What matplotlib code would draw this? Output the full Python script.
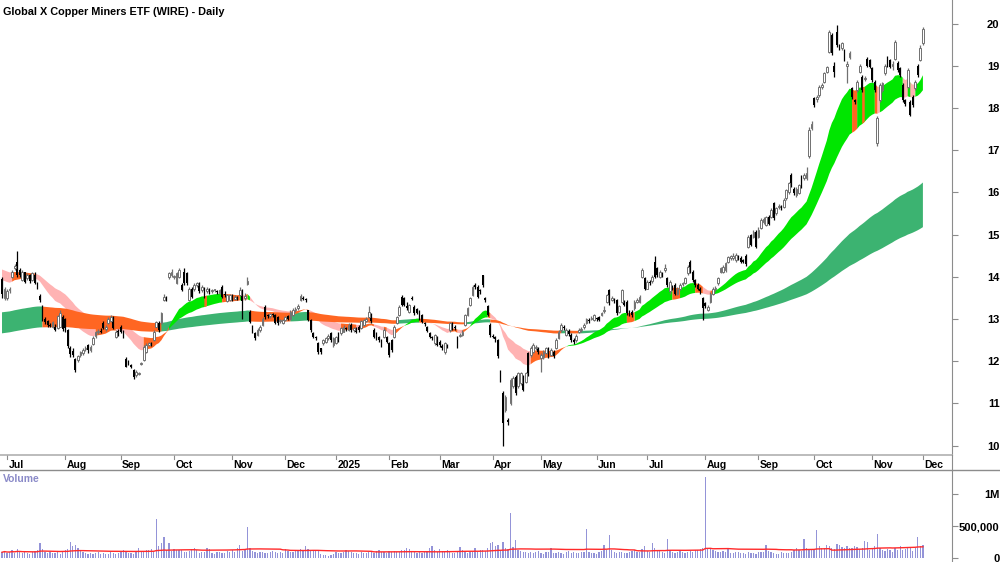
import numpy as np
import pandas as pd
import matplotlib
matplotlib.use('Agg')
import matplotlib.pyplot as plt
from matplotlib.lines import Line2D
from matplotlib.transforms import blended_transform_factory

plt.rcParams['font.family'] = ['Liberation Sans', 'DejaVu Sans']

title = 'Global X Copper Miners ETF (WIRE) - Daily'

# ASX trading days 27 Jun 2024 - 1 Dec 2025
first_day, last_day = '2024-06-27', '2025-12-01'
asx_holidays = ['2024-12-25', '2024-12-26', '2025-01-01', '2025-01-27',
                '2025-04-18', '2025-04-21', '2025-04-25', '2025-06-09']

opens = [
    13.95, 13.49, 13.5, 13.68, 14.0, 14.2, 14.35, 14.16, 13.92, 14.1,
    13.96, 14.04, 13.92, 14.05, 13.85, 13.55, 13.3, 13.0, 12.95, 12.85,
    12.82, 12.82, 12.78, 12.82, 13.05, 13.0, 12.74, 12.3, 12.25, 12.06,
    12.03, 12.15, 12.2,
    12.28, 12.38, 12.26, 12.4, 12.6, 12.7, 12.72, 12.9,
    12.76, 12.9, 12.94, 13.05, 12.58, 12.72, 12.82, 12.7, 12.06, 11.99,
    11.9, 11.79, 11.67, 11.7, 11.93, 12.03, 12.22, 12.38, 12.42, 12.5,
    12.82, 12.9, 12.9, 13.45, 13.5, 14.0, 14.04, 14.0, 13.85, 14.0,
    13.8, 14.12, 14.08, 13.45, 13.72, 13.7, 13.8, 13.84, 13.68, 13.72,
    13.65, 13.7, 13.66, 13.68, 13.65, 13.62, 13.76, 13.6, 13.42, 13.45,
    13.53, 13.48, 13.5, 13.57, 13.6, 13.5,
    13.82, 13.17, 12.82, 12.66, 12.62,
    12.74, 12.86, 13.29, 13.1, 13.06, 13.1, 13.1, 13.05, 12.94, 12.9,
    12.97, 13.07, 13.0, 13.1, 13.2, 13.25, 13.45, 13.5, 13.46, 13.2,
    12.97, 12.66, 12.58, 12.42, 12.3, 12.42, 12.45, 12.54, 12.66, 12.38,
    12.42, 12.66, 12.66, 12.7, 12.78, 12.74, 12.86, 12.74, 12.78, 12.82,
    12.78, 12.86, 12.94, 13.05, 13.1, 12.74, 12.66, 12.58, 12.5, 12.58,
    12.58, 12.42, 12.5, 12.58, 12.9, 13.1, 13.53, 13.5, 13.3,
    13.17, 13.5, 13.29, 13.23, 13.17, 13.09, 12.9, 12.8, 12.66, 12.58, 12.42, 12.58,
    12.46, 12.36, 12.22, 12.36, 12.74, 12.9, 12.82, 12.58, 12.6, 12.62,
    12.86, 13.1, 13.33, 13.57, 13.8, 13.76, 13.66, 14.04, 13.5, 13.3,
    12.86, 12.6, 12.56, 12.5, 11.75, 11.24, 10.84, 10.6, 11.0, 11.4,
    11.63, 11.4, 11.47, 11.63, 11.51, 12.19, 12.15, 12.22, 12.3, 12.3,
    12.07, 12.1, 12.2, 12.3, 12.15, 12.22, 12.3, 12.55, 12.74, 12.82, 12.62, 12.72,
    12.62, 12.5, 12.5, 12.7, 12.74, 12.8, 12.9, 12.98, 13.0,
    12.98, 13.0, 13.05, 13.1, 13.18, 13.41, 13.68, 13.45, 13.45, 13.45,
    13.17, 13.41, 13.4, 13.41, 13.17, 13.17, 13.25, 13.4, 13.41, 14.0,
    13.96, 13.72, 13.88, 13.9, 14.36, 14.2, 14.0, 14.08, 14.16, 13.96,
    13.65, 13.76, 13.8, 13.6, 13.72, 13.82, 13.85, 14.08, 14.36, 14.12,
    13.92, 13.8, 13.72, 13.5, 13.37, 13.22, 13.4, 13.6, 13.7, 13.84,
    14.12, 14.12, 14.16, 14.36, 14.45,
    14.44, 14.4, 14.47, 14.44, 14.38, 14.5,
    14.71, 14.99, 14.95, 15.07, 14.95, 15.15, 15.3, 15.22, 15.42, 15.42,
    15.74, 15.5, 15.64, 15.66, 15.66, 15.86, 16.0, 16.41, 16.09, 15.94,
    15.98, 16.37, 16.35, 16.33, 16.85, 17.52, 18.23, 18.2, 18.3, 18.5,
    18.62, 18.86, 19.33, 19.73, 19.0, 19.8, 19.49, 19.42, 19.37, 19.0,
    19.2, 18.46, 18.19, 18.42, 18.86, 18.74, 18.68, 19.17, 19.13, 18.94,
    18.62, 17.16, 18.19, 18.42, 18.82, 19.2, 19.13, 19.0,
    19.17, 19.06, 18.94, 18.54, 18.19, 18.5, 18.15, 18.27, 18.47, 19.0, 19.13, 19.53,
]

highs = [
    14.0, 13.75, 13.7, 13.75, 14.15, 14.3, 14.6, 14.2, 14.15, 14.12,
    14.08, 14.06, 14.1, 14.1, 13.88, 13.6, 13.32, 13.05, 12.98, 12.9,
    12.96, 12.88, 13.1, 13.2, 13.1, 13.02, 12.76, 12.35, 12.3, 12.08,
    12.15, 12.25, 12.3,
    12.35, 12.4, 12.38, 12.6, 12.72, 12.76, 12.78, 12.95,
    12.85, 13.05, 13.1, 13.08, 12.74, 12.75, 12.85, 12.74, 12.1, 12.02,
    11.93, 11.82, 11.78, 11.75, 11.98, 12.38, 12.42, 12.45, 12.46, 12.74,
    12.96, 12.94, 13.17, 13.58, 13.55, 14.12, 14.18, 14.05, 14.1, 14.2,
    13.85, 14.2, 14.1, 13.75, 13.75, 13.84, 13.88, 13.88, 13.8, 13.76,
    13.76, 13.74, 13.72, 13.72, 13.69, 13.72, 13.8, 13.65, 13.6, 13.6,
    13.58, 13.56, 13.54, 13.76, 13.7, 13.62,
    14.0, 13.2, 12.85, 12.7, 12.78,
    12.86, 13.05, 13.32, 13.12, 13.15, 13.13, 13.12, 13.08, 13.0, 13.0,
    13.08, 13.1, 13.2, 13.25, 13.28, 13.35, 13.6, 13.55, 13.5, 13.22,
    13.0, 12.7, 12.6, 12.45, 12.32, 12.52, 12.58, 12.64, 12.7, 12.56,
    12.6, 12.7, 12.8, 12.85, 12.82, 12.9, 12.9, 12.82, 12.82, 12.86,
    12.98, 13.0, 13.05, 13.3, 13.13, 12.78, 12.7, 12.6, 12.52, 12.78,
    12.6, 12.45, 12.52, 12.86, 13.08, 13.32, 13.57, 13.52, 13.4,
    13.36, 13.55, 13.32, 13.26, 13.2, 13.12, 12.93, 12.84, 12.7, 12.6, 12.64, 12.6,
    12.5, 12.4, 12.45, 12.4, 12.93, 12.93, 12.86, 12.6, 12.66, 12.74,
    13.12, 13.28, 13.52, 13.8, 13.84, 13.8, 13.7, 14.05, 13.53, 13.33,
    12.9, 12.64, 12.6, 12.52, 11.8, 11.3, 11.2, 10.65, 11.6, 11.64,
    11.66, 11.74, 11.75, 11.66, 11.74, 12.22, 12.35, 12.42, 12.38, 12.34,
    12.2, 12.26, 12.34, 12.34, 12.3, 12.26, 12.54, 12.74, 12.9, 12.86, 12.78, 12.76,
    12.66, 12.54, 12.64, 12.78, 12.8, 12.9, 13.02, 13.02, 13.06,
    13.12, 13.04, 13.08, 13.16, 13.3, 13.6, 13.7, 13.54, 13.5, 13.48,
    13.33, 13.72, 13.45, 13.44, 13.2, 13.2, 13.44, 13.5, 13.56, 14.2,
    14.0, 13.92, 13.92, 14.05, 14.5, 14.24, 14.16, 14.1, 14.3, 14.0,
    13.92, 13.8, 13.84, 13.76, 13.84, 13.88, 14.0, 14.28, 14.4, 14.15,
    13.95, 13.84, 13.76, 13.53, 13.4, 13.32, 13.64, 13.76, 13.78, 14.0,
    14.24, 14.28, 14.36, 14.5, 14.52,
    14.55, 14.55, 14.52, 14.48, 14.42, 14.54,
    15.0, 15.02, 15.1, 15.1, 15.18, 15.38, 15.42, 15.45, 15.46, 15.62,
    15.78, 15.66, 15.72, 15.7, 15.86, 16.08, 16.25, 16.45, 16.12, 16.12,
    16.2, 16.4, 16.45, 16.6, 17.55, 17.7, 18.27, 18.3, 18.55, 18.6,
    18.86, 19.0, 19.85, 19.78, 19.08, 19.96, 19.52, 19.56, 19.4, 19.1,
    19.34, 18.5, 18.22, 18.66, 19.04, 18.78, 18.76, 19.2, 19.16, 18.98,
    18.66, 17.8, 18.58, 18.62, 19.04, 19.24, 19.16, 19.1,
    19.6, 19.1, 18.98, 18.58, 18.22, 18.95, 18.18, 18.3, 18.66, 19.04, 19.5, 19.92,
]

lows = [
    13.5, 13.45, 13.45, 13.62, 13.98, 14.15, 14.0, 14.0, 13.9, 13.85,
    13.92, 13.85, 13.9, 13.82, 13.7, 13.4, 12.95, 12.88, 12.8, 12.8,
    12.78, 12.72, 12.75, 12.8, 12.72, 12.7, 12.3, 12.1, 12.1, 11.75,
    11.98, 12.1, 12.15,
    12.25, 12.2, 12.22, 12.38, 12.55, 12.65, 12.66, 12.75,
    12.72, 12.88, 12.92, 12.75, 12.55, 12.6, 12.66, 12.55, 11.85, 11.9,
    11.84, 11.58, 11.62, 11.66, 11.9, 12.0, 12.2, 12.35, 12.36, 12.48,
    12.8, 12.7, 12.88, 13.42, 13.42, 13.95, 14.0, 13.95, 13.82, 13.96,
    13.65, 13.8, 13.8, 13.42, 13.5, 13.66, 13.76, 13.62, 13.64, 13.5,
    13.62, 13.6, 13.62, 13.64, 13.6, 13.58, 13.5, 13.52, 13.4, 13.42,
    13.42, 13.45, 13.45, 13.55, 13.0, 13.45,
    13.8, 12.9, 12.66, 12.5, 12.6,
    12.7, 12.84, 13.0, 13.02, 13.03, 13.05, 12.88, 12.86, 12.9, 12.88,
    12.95, 12.97, 12.98, 13.08, 13.16, 13.2, 13.42, 13.44, 13.4, 12.94,
    12.7, 12.55, 12.5, 12.18, 12.18, 12.38, 12.42, 12.5, 12.46, 12.34,
    12.4, 12.46, 12.62, 12.68, 12.72, 12.72, 12.7, 12.7, 12.66, 12.7,
    12.76, 12.84, 12.92, 13.02, 12.9, 12.55, 12.5, 12.46, 12.34, 12.55,
    12.42, 12.1, 12.22, 12.55, 12.88, 13.08, 13.3, 13.3, 13.2,
    13.14, 13.44, 13.1, 13.12, 12.97, 12.9, 12.84, 12.68, 12.55, 12.5, 12.38, 12.35,
    12.34, 12.26, 12.18, 12.3, 12.7, 12.74, 12.74, 12.3, 12.56, 12.6,
    12.84, 13.08, 13.3, 13.55, 13.72, 13.5, 13.6, 13.76, 13.4, 13.08,
    12.58, 12.54, 12.46, 12.08, 11.5, 10.0, 10.8, 10.48, 10.96, 11.36,
    11.2, 11.36, 11.44, 11.28, 11.48, 11.64, 12.1, 12.2, 12.26, 12.18,
    11.75, 12.06, 12.16, 12.08, 12.12, 12.08, 12.28, 12.52, 12.7, 12.74, 12.6, 12.6,
    12.46, 12.4, 12.46, 12.66, 12.7, 12.76, 12.88, 12.9, 12.97,
    12.95, 12.95, 12.94, 13.06, 13.15, 13.38, 13.34, 13.42, 13.38, 13.1,
    13.14, 13.38, 13.3, 13.1, 13.08, 13.04, 13.22, 13.38, 13.38, 13.96,
    13.68, 13.7, 13.8, 13.85, 13.96, 14.0, 13.96, 14.0, 14.12, 13.76,
    13.6, 13.68, 13.56, 13.56, 13.68, 13.78, 13.82, 14.04, 14.08, 13.88,
    13.76, 13.68, 13.6, 12.97, 13.25, 13.18, 13.38, 13.56, 13.66, 13.8,
    14.08, 14.08, 14.12, 14.32, 14.4,
    14.4, 14.36, 14.4, 14.32, 14.32, 14.26,
    14.68, 14.72, 14.92, 14.68, 14.92, 15.12, 15.26, 15.2, 15.22, 15.38,
    15.35, 15.46, 15.6, 15.58, 15.62, 15.82, 15.96, 16.12, 15.94, 15.9,
    15.95, 16.1, 16.3, 16.3, 16.82, 17.48, 18.02, 18.15, 18.26, 18.45,
    18.58, 18.82, 19.3, 19.26, 18.74, 19.45, 19.38, 19.38, 19.1, 18.6,
    19.16, 18.22, 18.1, 18.38, 18.82, 18.38, 18.64, 18.96, 18.94, 18.62,
    18.38, 17.1, 18.15, 18.38, 18.78, 18.96, 18.94, 18.9,
    19.14, 18.86, 18.74, 18.15, 18.05, 18.46, 17.8, 18.03, 18.43, 18.74, 19.1, 19.5,
]

closes = [
    13.6, 13.72, 13.65, 13.7, 14.12, 14.25, 14.04, 14.05, 14.1, 13.88,
    14.05, 13.9, 14.08, 13.85, 13.72, 13.45, 13.0, 12.92, 12.85, 12.83,
    12.93, 12.74, 13.07, 13.13, 12.76, 12.78, 12.35, 12.18, 12.15, 11.8,
    12.12, 12.22, 12.26,
    12.3, 12.26, 12.34, 12.55, 12.68, 12.72, 12.7, 12.78,
    12.8, 13.0, 13.05, 12.78, 12.7, 12.65, 12.7, 12.6, 11.87, 11.95,
    11.87, 11.63, 11.75, 11.72, 11.95, 12.34, 12.38, 12.42, 12.4, 12.7,
    12.93, 12.74, 13.13, 13.53, 13.47, 14.08, 14.12, 14.0, 14.08, 14.16,
    13.68, 13.84, 13.84, 13.72, 13.53, 13.8, 13.84, 13.65, 13.76, 13.53,
    13.72, 13.65, 13.68, 13.69, 13.64, 13.68, 13.53, 13.57, 13.57, 13.57,
    13.46, 13.52, 13.49, 13.68, 13.42, 13.55,
    13.9, 12.93, 12.7, 12.54, 12.74,
    12.82, 13.0, 13.05, 13.06, 13.12, 13.09, 12.9, 12.9, 12.97, 12.97,
    13.05, 13.0, 13.17, 13.2, 13.24, 13.3, 13.55, 13.48, 13.45, 12.97,
    12.74, 12.58, 12.55, 12.22, 12.22, 12.5, 12.54, 12.6, 12.5, 12.54,
    12.58, 12.5, 12.78, 12.82, 12.76, 12.86, 12.74, 12.78, 12.7, 12.74,
    12.94, 12.97, 13.0, 13.17, 12.94, 12.58, 12.54, 12.5, 12.38, 12.74,
    12.46, 12.15, 12.26, 12.82, 13.05, 13.29, 13.33, 13.33, 13.25,
    13.33, 13.48, 13.13, 13.15, 13.0, 12.93, 12.88, 12.72, 12.58, 12.55, 12.62, 12.38,
    12.38, 12.3, 12.42, 12.34, 12.9, 12.78, 12.78, 12.34, 12.62, 12.7,
    13.09, 13.25, 13.49, 13.76, 13.76, 13.53, 13.65, 13.8, 13.45, 13.1,
    12.62, 12.58, 12.52, 12.11, 11.55, 10.53, 11.16, 10.56, 11.55, 11.6,
    11.24, 11.71, 11.71, 11.32, 11.71, 11.67, 12.3, 12.38, 12.34, 12.22,
    12.15, 12.22, 12.3, 12.11, 12.26, 12.11, 12.5, 12.7, 12.86, 12.78, 12.74, 12.64,
    12.5, 12.46, 12.6, 12.74, 12.76, 12.86, 12.99, 12.94, 13.03,
    13.09, 12.99, 12.98, 13.13, 13.21, 13.57, 13.37, 13.5, 13.42, 13.13,
    13.3, 13.68, 13.33, 13.13, 13.13, 13.09, 13.41, 13.45, 13.53, 14.16,
    13.72, 13.88, 13.84, 14.0, 14.0, 14.04, 14.12, 14.04, 14.2, 13.8,
    13.88, 13.72, 13.6, 13.72, 13.8, 13.84, 13.96, 14.24, 14.12, 13.92,
    13.8, 13.72, 13.65, 13.25, 13.3, 13.28, 13.6, 13.72, 13.74, 13.96,
    14.2, 14.24, 14.32, 14.47, 14.48,
    14.5, 14.51, 14.45, 14.36, 14.36, 14.3,
    14.95, 14.75, 15.07, 14.71, 15.1, 15.34, 15.36, 15.42, 15.26, 15.58,
    15.38, 15.62, 15.68, 15.63, 15.82, 16.05, 16.21, 16.17, 15.98, 16.09,
    16.17, 16.13, 16.4, 16.45, 17.48, 17.63, 18.07, 18.25, 18.5, 18.55,
    18.82, 18.98, 19.8, 19.3, 18.86, 19.49, 19.43, 19.53, 19.13, 19.05,
    19.3, 18.27, 18.15, 18.62, 19.0, 18.42, 18.72, 19.0, 18.98, 18.66,
    18.42, 17.75, 18.54, 18.58, 19.0, 19.0, 18.98, 19.05,
    19.57, 18.9, 18.78, 18.19, 18.1, 18.9, 17.83, 18.07, 18.62, 18.78, 19.41, 19.88,
]

# daily volume, thousands of units
volumes_k = [
    90, 110, 80, 95, 120, 85, 140, 100, 75, 90,
    85, 70, 95, 110, 130, 230, 140, 100, 85, 90,
    75, 80, 95, 70, 110, 120, 140, 250, 180, 200,
    150, 120, 95, 80, 70, 85, 60, 75, 90, 65,
    80, 70, 55, 90, 85, 60, 75, 100, 130, 90,
    80, 85, 70, 95, 150, 110, 90, 130, 120, 140,
    95, 610, 180, 240, 330, 120, 230, 110, 140, 120,
    130, 125, 100, 90, 110, 140, 160, 120, 85, 100,
    95, 150, 140, 80, 70, 90, 100, 85, 75, 110,
    95, 130, 100, 150, 200, 110, 140, 480, 160, 110,
    95, 80, 90, 100, 85, 75, 90, 110, 95, 80,
    95, 85, 140, 110, 100, 90, 120, 110, 135, 130,
    180, 140, 130, 120, 125, 110, 60, 45, 40, 35,
    50, 55, 90, 80, 85, 100, 120, 110, 90, 85,
    75, 70, 95, 85, 80, 90, 100, 85, 110, 120,
    95, 90, 80, 105, 100, 115, 95, 90, 130, 120,
    150, 135, 100, 90, 80, 95, 85, 100, 110, 150,
    190, 120, 100, 140, 110, 90, 120, 100, 80, 85,
    110, 170, 120, 110, 85, 90, 100, 150, 95, 120,
    130, 110, 150, 230, 250, 180, 200, 120, 250, 160,
    140, 700, 170, 280, 120, 110, 90, 95, 80, 100,
    85, 90, 110, 80, 70, 95, 100, 150, 85, 75,
    90, 80, 70, 95, 110, 85, 90, 75, 80, 95,
    100, 450, 90, 80, 85, 70, 95, 110, 200, 120,
    360, 130, 100, 85, 90, 95, 80, 75, 90, 110,
    120, 100, 95, 140, 180, 110, 90, 240, 150, 130,
    110, 90, 85, 290, 120, 100, 80, 95, 110, 90,
    85, 100, 110, 95, 130, 120, 140, 160, 1270, 160,
    150, 120, 110, 100, 90, 110, 95, 150, 85, 80,
    100, 95, 85, 80, 70, 90, 85, 75, 70, 95,
    90, 100, 200, 110, 95, 85, 70, 65, 90, 80,
    75, 85, 95, 120, 150, 130, 110, 300, 160, 130,
    140, 120, 440, 180, 150, 160, 200, 190, 160, 140,
    220, 210, 170, 150, 190, 160, 150, 180, 170, 140,
    150, 260, 250, 130, 160, 180, 370, 150, 120, 110,
    140, 130, 100, 150, 130, 190, 120, 140, 170, 150,
    110, 160, 330, 190, 200,
]

# ribbon levels at the left edge of the chart
short_spans, short_start = (20, 40), (13.95, 14.2)
long_spans, long_start = (145, 250), (13.15, 12.65)
vol_ma_days = 50

GREEN, DKGREEN, ORANGE, PINK = '#00E600', '#3CB371', '#FF6622', '#FFB3B3'

days = pd.bdate_range(first_day, last_day)
days = days[~days.isin(pd.to_datetime(asx_holidays))]
n = len(closes)
assert len(days) == n == len(opens) == len(highs) == len(lows) == len(volumes_k)
x = np.arange(n)
o, h, l, c = (np.array(v, dtype=float) for v in (opens, highs, lows, closes))
vol = np.array(volumes_k) * 1000.0


def ema(vals, span, start):
    a = 2.0 / (span + 1)
    out = np.empty(len(vals))
    prev = start
    for i, v in enumerate(vals):
        prev = prev + a * (v - prev)
        out[i] = prev
    return out, np.diff(np.r_[start, out])


def band(ax, lo, hi, mask, color, z):
    m = mask.copy()
    m[1:] |= mask[:-1]
    ax.fill_between(x, lo, hi, where=m, color=color, lw=0, zorder=z)


W, H = 1000, 562
fig = plt.figure(figsize=(W / 100, H / 100), dpi=100)
ax = fig.add_axes([0, 1 - 455 / H, 952 / W, 455 / H])
axv = fig.add_axes([0, 0, 952 / W, 92 / H])

# ribbons
s1, ds1 = ema(c, short_spans[0], short_start[0])
s2, ds2 = ema(c, short_spans[1], short_start[1])
l1, dl1 = ema(c, long_spans[0], long_start[0])
l2, dl2 = ema(c, long_spans[1], long_start[1])
s_lo, s_hi = np.minimum(s1, s2), np.maximum(s1, s2)
l_lo, l_hi = np.minimum(l1, l2), np.maximum(l1, l2)

# short ribbon: green = fast above slow and both rising, pink = both falling
s_up = (s1 >= s2) & (ds1 > 0) & (ds2 > 0)
s_dn = (ds1 < 0) & (ds2 < 0)
s_mid = ~s_up & ~s_dn
l_up = (dl1 > 0) & (dl2 > 0)

band(ax, s_lo, s_hi, s_dn, PINK, 1)
band(ax, l_lo, l_hi, l_up, DKGREEN, 2)
band(ax, l_lo, l_hi, ~l_up, ORANGE, 2)
band(ax, s_lo, s_hi, s_up, GREEN, 3)
band(ax, s_lo, s_hi, s_mid, ORANGE, 3)

# candles
up = c >= o
ax.vlines(x[~up], l[~up], h[~up], color='black', lw=0.9, zorder=5)
ax.vlines(x[up], l[up], h[up], color='#707070', lw=0.9, zorder=5)
body = np.maximum(np.abs(c - o), 0.025)
ax.bar(x[~up], body[~up], bottom=np.minimum(o, c)[~up], width=0.7,
       color='black', lw=0, zorder=6)
ax.bar(x[up], body[up], bottom=np.minimum(o, c)[up], width=0.7,
       facecolor='white', edgecolor='#707070', lw=0.7, zorder=6)

xlim = (-0.79, 375.5)
ax.set_xlim(*xlim)
ax.set_ylim(9.775, 20.557)

# volume
axv.bar(x, vol, width=0.5, color='#9494d8', lw=0)
vol_ma = pd.Series(vol).rolling(vol_ma_days, min_periods=1).mean()
axv.plot(x, vol_ma, color='#ff2a2a', lw=1)
axv.set_xlim(*xlim)
axv.set_ylim(-62500, 1375000)

grey = '#8c8c8c'
tick_pad = (998 - 952) * 0.72 - 3
for a in (ax, axv):
    for s in ('left', 'top', 'bottom'):
        a.spines[s].set_visible(False)
    a.spines['right'].set_color(grey)
    a.yaxis.tick_right()
    a.tick_params(axis='y', direction='out', length=4, width=0.8, color=grey,
                  pad=tick_pad, labelsize=8)
    a.set_xticks([])

ax.spines['bottom'].set_visible(True)
ax.spines['bottom'].set_color('#b0b0b0')
ax.spines['bottom'].set_linewidth(1.2)
ax.set_yticks(range(10, 21))
axv.set_yticks([0, 500000, 1000000])
axv.set_yticklabels(['0', '500,000', '1M'])
for a in (ax, axv):
    for lab in a.get_yticklabels():
        lab.set_ha('right')
        lab.set_fontweight('bold')

# month labels under the price panel
month_idx = [i for i in range(1, n) if days[i].month != days[i - 1].month]
trans = blended_transform_factory(ax.transData, ax.transAxes)
for i in month_idx:
    lab = '2025' if days[i].month == 1 else days[i].strftime('%b')
    ax.plot([i, i], [0, -0.008], color=grey, lw=0.8, transform=trans, clip_on=False)
    ax.text(i + 0.5, -0.012, lab, transform=trans, ha='left', va='top',
            fontsize=7.5, fontweight='bold')

fig.add_artist(Line2D([0, 1], [1 - 470 / H] * 2, color=grey, lw=1))
fig.add_artist(Line2D([952 / W] * 2, [1 - 470 / H, 1 - 455 / H], color=grey, lw=0.8))

fig.text(3 / W, 1 - 12 / H, title, fontsize=7.8, fontweight='bold', va='center')
fig.text(3 / W, 1 - 479 / H, 'Volume', fontsize=7.5, fontweight='bold',
         color='#8a8ac8', va='center')

fig.savefig('out.png', dpi=100)
